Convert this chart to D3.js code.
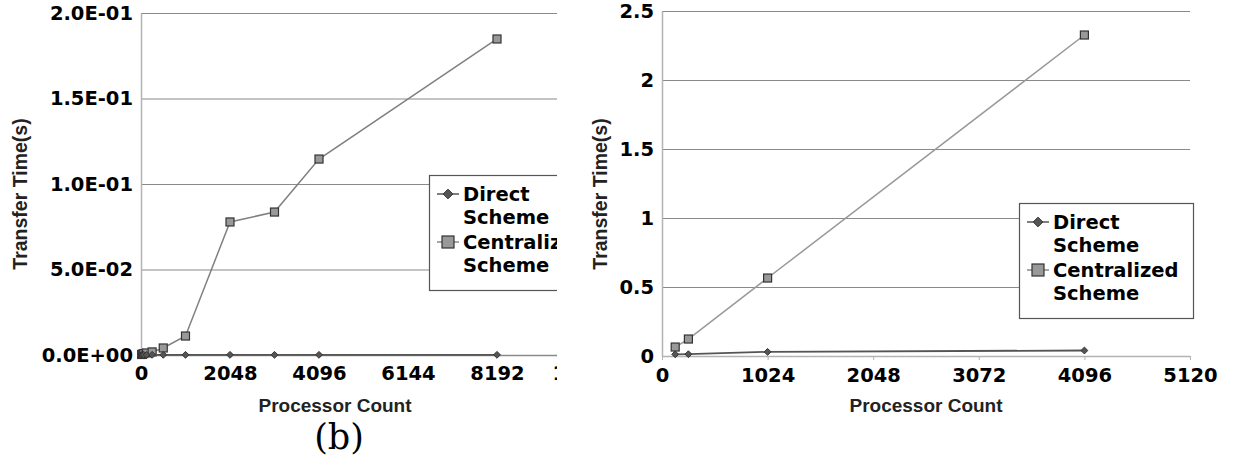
<!DOCTYPE html>
<html>
<head>
<meta charset="utf-8">
<script src="https://cdn.jsdelivr.net/npm/d3@7"></script>
<style>
  body { margin: 0; background: #fff; }
  svg { display: block; }
</style>
</head>
<body>
<div id="chart"></div>
<script>
// ---- data ----
var seriesNames = ["Direct\nScheme", "Centralized\nScheme"];

// left panel
var leftProcs   = [16, 32, 64, 128, 256, 512, 1024, 2048, 3072, 4096, 8192];
var leftDirect  = [0.0001, 0.0001, 0.0001, 0.0001, 0.0001, 0.0001, 0.0001, 0.0001, 0.0001, 0.0001, 0.0001];
var leftCentral = [0.0003, 0.0005, 0.0008, 0.0012, 0.0018, 0.0041, 0.0111, 0.0778, 0.0836, 0.1146, 0.1848];
var leftXTicks  = [0, 2048, 4096, 6144, 8192, 10240];
var leftYTicks  = [0, 0.05, 0.1, 0.15, 0.2];

// right panel
var rightProcs   = [128, 256, 1024, 4096];
var rightDirect  = [0.012, 0.013, 0.030, 0.040];
var rightCentral = [0.065, 0.123, 0.565, 2.326];
var rightXTicks  = [0, 1024, 2048, 3072, 4096, 5120];
var rightYTicks  = [0, 0.5, 1, 1.5, 2, 2.5];

var W = 1234, H = 463;
var tickFont = "19.5px";

var svg = d3.select("#chart").append("svg")
    .attr("width", W)
    .attr("height", H);

function drawPanel(opt) {
    var g = svg.append("g");
    if (opt.clipRight) {
        svg.append("clipPath").attr("id", opt.id + "-clip")
            .append("rect").attr("x", 0).attr("y", 0)
            .attr("width", opt.clipRight).attr("height", H);
        g.attr("clip-path", "url(#" + opt.id + "-clip)");
    }

    var x = d3.scaleLinear().domain(opt.xDomain).range([opt.left, opt.xEnd]);
    var y = d3.scaleLinear().domain(opt.yDomain).range([opt.bottom, opt.top]);

    // gridlines
    g.append("g").selectAll("line")
        .data(opt.yTicks.filter(function(d){ return opt.gridZero || d > 0; }))
        .enter().append("line")
        .attr("x1", opt.left).attr("x2", opt.gridEnd)
        .attr("y1", function(d){ return y(d) + 0.5; })
        .attr("y2", function(d){ return y(d) + 0.5; })
        .attr("stroke", "#8a8a8a")
        .attr("stroke-width", 1.2);

    // y axis
    var yAxis = d3.axisLeft(y).tickValues(opt.yTicks).tickSize(0).tickPadding(8)
        .tickFormat(opt.yFormat);
    var ya = g.append("g").attr("transform", "translate(" + opt.left + ",0)").call(yAxis);
    ya.select(".domain").attr("stroke", "#b3b3b3").attr("stroke-width", 1.5);
    ya.selectAll("text")
        .attr("font-family", "DejaVu Sans").attr("font-weight", "bold")
        .attr("font-size", tickFont).attr("fill", "#000");

    // x axis
    var xAxis = d3.axisBottom(x).tickValues(opt.xTicks).tickSizeInner(opt.xTickLen)
        .tickSizeOuter(0).tickPadding(opt.xPad).tickFormat(d3.format("d"));
    var xa = g.append("g").attr("transform", "translate(0," + opt.bottom + ")").call(xAxis);
    xa.select(".domain").attr("stroke", opt.xAxisColor).attr("stroke-width", 1.5)
        .attr("d", "M" + opt.left + ",0.5H" + opt.gridEnd);
    xa.selectAll(".tick line").attr("stroke", "#b3b3b3");
    xa.selectAll("text")
        .attr("font-family", "DejaVu Sans").attr("font-weight", "bold")
        .attr("font-size", tickFont).attr("fill", "#000");

    // axis titles
    g.append("text")
        .attr("transform", "translate(" + opt.yTitleX + ",194) rotate(-90)")
        .attr("text-anchor", "middle")
        .attr("font-family", "Liberation Sans").attr("font-weight", "bold")
        .attr("font-size", "19.5px").attr("fill", "#222")
        .text("Transfer Time(s)");
    g.append("text")
        .attr("x", opt.xTitleX).attr("y", 412)
        .attr("text-anchor", "middle")
        .attr("font-family", "Liberation Sans").attr("font-weight", "bold")
        .attr("font-size", "19px").attr("fill", "#222")
        .text("Processor Count");

    var line = d3.line()
        .x(function(d){ return x(d[0]); })
        .y(function(d){ return y(d[1]); });

    var direct = opt.procs.map(function(p, i){ return [p, opt.direct[i]]; });
    var central = opt.procs.map(function(p, i){ return [p, opt.central[i]]; });

    // centralized series
    g.append("path").datum(central).attr("d", line)
        .attr("fill", "none").attr("stroke", opt.centralColor).attr("stroke-width", 1.5);
    g.append("g").selectAll("rect").data(central).enter().append("rect")
        .attr("x", function(d){ return x(d[0]) - 4; })
        .attr("y", function(d){ return y(d[1]) - 4; })
        .attr("width", 8).attr("height", 8)
        .attr("fill", "#999").attr("stroke", "#333").attr("stroke-width", 1.2);

    // direct series
    g.append("path").datum(direct).attr("d", line)
        .attr("fill", "none").attr("stroke", "#555").attr("stroke-width", 1.8);
    g.append("g").selectAll("path.dia").data(direct).enter().append("path")
        .attr("class", "dia")
        .attr("d", d3.symbol().type(d3.symbolDiamond2).size(30))
        .attr("transform", function(d){ return "translate(" + x(d[0]) + "," + y(d[1]) + ")"; })
        .attr("fill", "#555").attr("stroke", "#333").attr("stroke-width", 1);

    // legend
    var lg = g.append("g").attr("transform", "translate(" + opt.legX + "," + opt.legY + ")");
    lg.append("rect").attr("x", 0.5).attr("y", 0.5)
        .attr("width", opt.legW).attr("height", 115)
        .attr("fill", "#fff").attr("stroke", "#555").attr("stroke-width", 1.2);
    seriesNames.forEach(function(name, i){
        var cy = 19 + i * 48;
        var mx = 19;
        lg.append("line").attr("x1", mx - 11).attr("x2", mx + 11)
            .attr("y1", cy).attr("y2", cy)
            .attr("stroke", i === 0 ? "#555" : "#888").attr("stroke-width", 1.5);
        if (i === 0) {
            lg.append("path")
                .attr("d", d3.symbol().type(d3.symbolDiamond2).size(60))
                .attr("transform", "translate(" + mx + "," + cy + ")")
                .attr("fill", "#555").attr("stroke", "#333");
        } else {
            lg.append("rect").attr("x", mx - 6).attr("y", cy - 6)
                .attr("width", 12).attr("height", 12)
                .attr("fill", "#999").attr("stroke", "#333").attr("stroke-width", 1.2);
        }
        var t = lg.append("text")
            .attr("font-family", "DejaVu Sans").attr("font-weight", "bold")
            .attr("font-size", tickFont).attr("fill", "#000");
        name.split("\n").forEach(function(part, k){
            t.append("tspan").attr("x", 34).attr("y", cy + 7 + k * 23).text(part);
        });
    });
}

var sciFmt = function(d){
    var s = d3.format(".1e")(d);            // e.g. 2.0e-1
    var m = s.split("e");
    var ex = +m[1];
    var sign = ex < 0 ? "-" : "+";
    var a = Math.abs(ex);
    return m[0] + "E" + sign + (a < 10 ? "0" : "") + a;
};

drawPanel({
    id: "left",
    procs: leftProcs, direct: leftDirect, central: leftCentral,
    xTicks: leftXTicks, yTicks: leftYTicks,
    xDomain: [0, 10240], yDomain: [0, 0.2],
    left: 141, xEnd: 586, top: 13, bottom: 355, gridEnd: 560,
    gridZero: true, xAxisColor: "#8a8a8a", xTickLen: 0, xPad: 11,
    yFormat: sciFmt,
    centralColor: "#808080",
    yTitleX: 27, xTitleX: 335,
    legX: 429, legY: 175, legW: 140,
    clipRight: 557
});

drawPanel({
    id: "right",
    procs: rightProcs, direct: rightDirect, central: rightCentral,
    xTicks: rightXTicks, yTicks: rightYTicks,
    xDomain: [0, 5120], yDomain: [0, 2.5],
    left: 662, xEnd: 1190, top: 11, bottom: 356, gridEnd: 1190,
    gridZero: false, xAxisColor: "#b3b3b3", xTickLen: 4, xPad: 8,
    yFormat: function(d){ return String(d); },
    centralColor: "#999",
    yTitleX: 607, xTitleX: 926,
    legX: 1019, legY: 203, legW: 174,
    clipRight: 0
});

// panel caption
svg.append("text")
    .attr("x", 339).attr("y", 449)
    .attr("text-anchor", "middle")
    .attr("font-family", "DejaVu Serif")
    .attr("font-size", "35px").attr("fill", "#000")
    .text("(b)");
</script>
</body>
</html>
